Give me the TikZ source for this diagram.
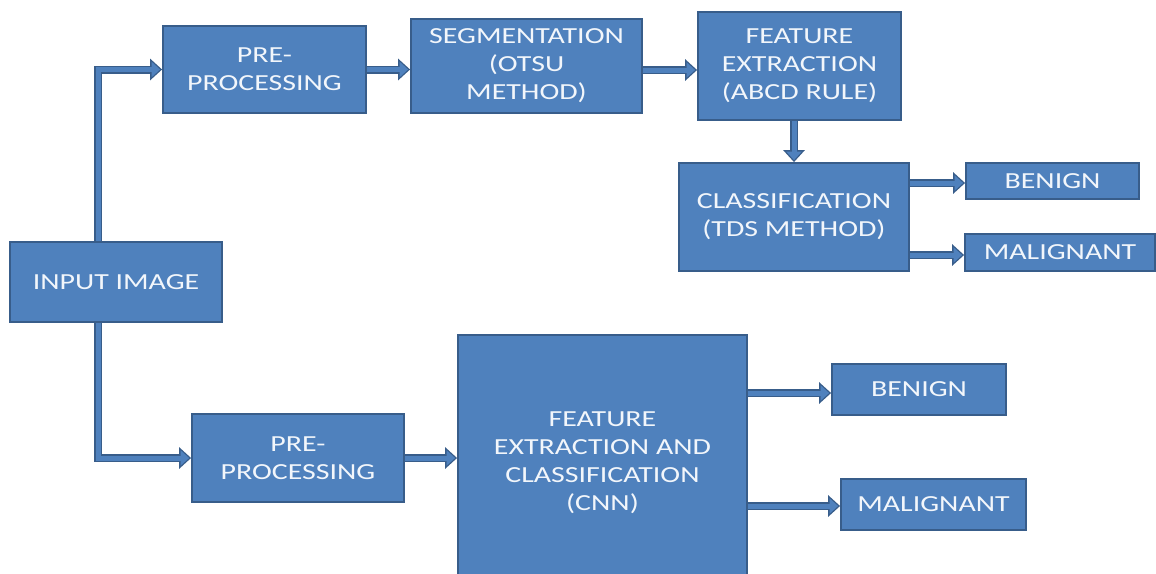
\documentclass[tikz,border=0pt]{standalone}
\usepackage{fontspec}
\setmainfont{Carlito}[FakeStretch=1.3]
\usetikzlibrary{arrows.meta,calc}
\definecolor{boxblue}{HTML}{4F81BD}
\definecolor{edgeblue}{HTML}{385D8A}
\definecolor{txt}{HTML}{F2F6FB}
\tikzset{
  blk/.style={draw=edgeblue, line width=1.8pt, fill=boxblue, text=txt, align=center,
    inner sep=0pt, font=\fontsize{23}{28}\selectfont},
  arr/.style={line width=8pt, draw=edgeblue, -{Triangle[length=12pt,width=21pt]},
    postaction={draw=boxblue, line width=5pt, -{Triangle[length=8.5pt,width=15pt]}, shorten >=2pt}},
}
\begin{document}
\begin{tikzpicture}[x=1pt,y=-1pt]
\clip (0,0) rectangle (1156,573);
\fill[white] (0,0) rectangle (1156,573);
\node[blk, minimum width=212pt, minimum height=80pt] (input) at (116,282) {INPUT IMAGE};
\node[blk, minimum width=203pt, minimum height=87pt] (pre1) at (264.5,69.5) {PRE-\\PROCESSING};
\node[blk, minimum width=231pt, minimum height=94pt] (seg) at (526.5,66) {SEGMENTATION\\(OTSU\\METHOD)};
\node[blk, minimum width=203pt, minimum height=108pt] (feat) at (799.5,66) {FEATURE\\EXTRACTION\\(ABCD RULE)};
\node[blk, minimum width=230pt, minimum height=108pt] (class) at (794,217) {CLASSIFICATION\\(TDS METHOD)};
\node[blk, minimum width=173pt, minimum height=36pt] (ben1) at (1052.5,181) {BENIGN};
\node[blk, minimum width=190pt, minimum height=37pt] (mal1) at (1060,252.5) {MALIGNANT};
\node[blk, minimum width=212pt, minimum height=88pt] (pre2) at (298,458) {PRE-\\PROCESSING};
\node[blk, minimum width=289pt, minimum height=255pt] (cnn) at (602.5,462.5) {FEATURE\\EXTRACTION AND\\CLASSIFICATION\\(CNN)};
\node[blk, minimum width=174pt, minimum height=51pt] (ben2) at (919,389.5) {BENIGN};
\node[blk, minimum width=185pt, minimum height=51pt] (mal2) at (933.5,504.5) {MALIGNANT};
% connectors
\draw[arr] ([xshift=-18pt]input.north) |- (pre1.west);
\draw[arr] ([xshift=-18pt]input.south) |- (pre2.west);
\draw[arr] (pre1.east) -- (pre1.east -| seg.west);
\draw[arr] ([yshift=-4pt]seg.east) -- ([yshift=-4pt]seg.east -| feat.west);
\draw[arr] (class.north |- feat.south) -- (class.north);
\draw[arr] ([yshift=-2pt]class.east |- ben1.west) -- ([yshift=-2pt]ben1.west);
\draw[arr] ([yshift=-2.5pt]class.east |- mal1.west) -- ([yshift=-2.5pt]mal1.west);
\draw[arr] (pre2.east) -- (pre2.east -| cnn.west);
\draw[arr] ([yshift=-3.5pt]cnn.east |- ben2.west) -- ([yshift=-3.5pt]ben2.west);
\draw[arr] ([yshift=-1.5pt]cnn.east |- mal2.west) -- ([yshift=-1.5pt]mal2.west);
\end{tikzpicture}
\end{document}
